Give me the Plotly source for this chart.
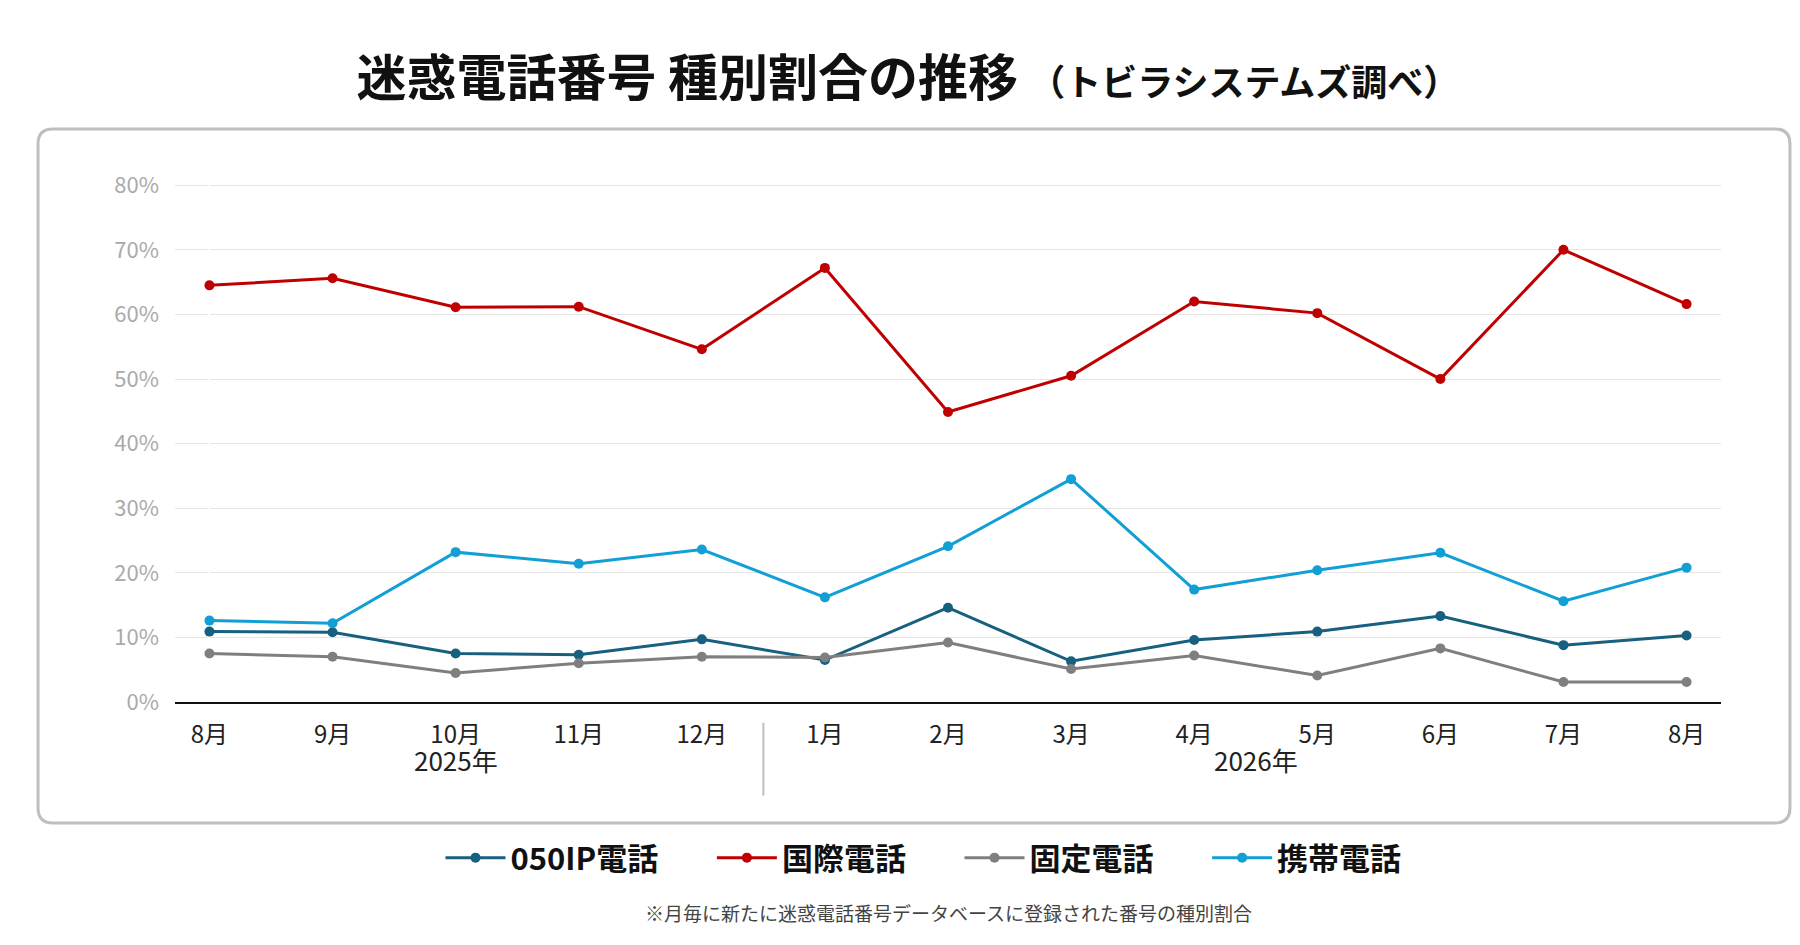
import plotly.graph_objects as go

months = ["8月", "9月", "10月", "11月", "12月", "1月", "2月", "3月", "4月", "5月", "6月", "7月", "8月"]
year_labels = ["2025年", "2026年"]
year_centers = [2, 8.5]

ip050 = [10.9, 10.8, 7.5, 7.3, 9.7, 6.5, 14.6, 6.3, 9.6, 10.9, 13.3, 8.8, 10.3]
kokusai = [64.5, 65.6, 61.1, 61.2, 54.6, 67.2, 44.9, 50.5, 62.0, 60.2, 50.0, 70.0, 61.6]
kotei = [7.5, 7.0, 4.5, 6.0, 7.0, 6.9, 9.2, 5.1, 7.2, 4.1, 8.3, 3.1, 3.1]
keitai = [12.6, 12.2, 23.2, 21.4, 23.6, 16.2, 24.1, 34.5, 17.4, 20.4, 23.1, 15.6, 20.8]

series = [
    ("050IP電話", ip050, "#17607f"),
    ("国際電話", kokusai, "#c00000"),
    ("固定電話", kotei, "#7f7f7f"),
    ("携帯電話", keitai, "#119fd6"),
]

font = "Noto Sans CJK JP"
xs = list(range(len(months)))
fig = go.Figure()
for name, vals, color in series:
    fig.add_trace(go.Scatter(
        x=xs, y=vals, name=f"<b>{name}</b>       ", mode="lines+markers",
        line=dict(color=color, width=3), marker=dict(size=10, color=color),
    ))

# rounded frame around the plot area (paper coords)
x0, x1, y0, y1 = -0.0886, 1.0446, -0.2327, 1.102
dx, dy = 0.0097, 0.0288
path = (f"M {x0+dx},{y1} L {x1-dx},{y1} Q {x1},{y1} {x1},{y1-dy} "
        f"L {x1},{y0+dy} Q {x1},{y0} {x1-dx},{y0} L {x0+dx},{y0} "
        f"Q {x0},{y0} {x0},{y0+dy} L {x0},{y1-dy} Q {x0},{y1} {x0+dx},{y1} Z")

annotations = [dict(text=t, x=c, xref="x", yref="paper", y=-0.15, showarrow=False,
                    font=dict(size=26, color="#222")) for t, c in zip(year_labels, year_centers)]
annotations.append(dict(text="※月毎に新たに迷惑電話番号データベースに登録された番号の種別割合",
                        xref="paper", yref="paper", x=0.5, y=-0.435, showarrow=False,
                        font=dict(size=19, color="#444")))

fig.update_layout(
    width=1800, height=945,
    margin=dict(l=167, r=87, t=174, b=251),
    plot_bgcolor="white", paper_bgcolor="white",
    font=dict(family=font, size=22, color="#222"),
    title=dict(
        text="<b>迷惑電話番号 種別割合の推移</b> <span style='font-size:36px'><b>（トビラシステムズ調べ）</b></span>",
        x=0.5, xanchor="center", y=0.925, yanchor="middle",
        font=dict(size=50, color="#111"),
    ),
    shapes=[
        dict(type="path", xref="paper", yref="paper", path=path,
             line=dict(color="#bfbfbf", width=3), fillcolor="rgba(0,0,0,0)", layer="below"),
        dict(type="line", xref="x", yref="paper", x0=4.5, x1=4.5, y0=-0.04, y1=-0.18,
             line=dict(color="#bfbfbf", width=2)),
    ],
    legend=dict(orientation="h", x=0.5, xanchor="center", y=-0.3, yanchor="middle",
                font=dict(size=31, color="#111"), itemwidth=60, traceorder="normal"),
    annotations=annotations,
)
fig.update_xaxes(range=[-0.28, 12.28], tickvals=xs, ticktext=months,
                 showline=True, linecolor="#111", linewidth=2, showgrid=False,
                 tickfont=dict(size=24, color="#222"), ticks="", ticklabelstandoff=10)
fig.update_yaxes(range=[0, 80.5], dtick=10, ticksuffix="%", showgrid=True, gridcolor="#e6e6e6",
                 tickfont=dict(size=22, color="#aaaaaa"), zeroline=False, ticklabelstandoff=15)

fig.write_html("out.html")
